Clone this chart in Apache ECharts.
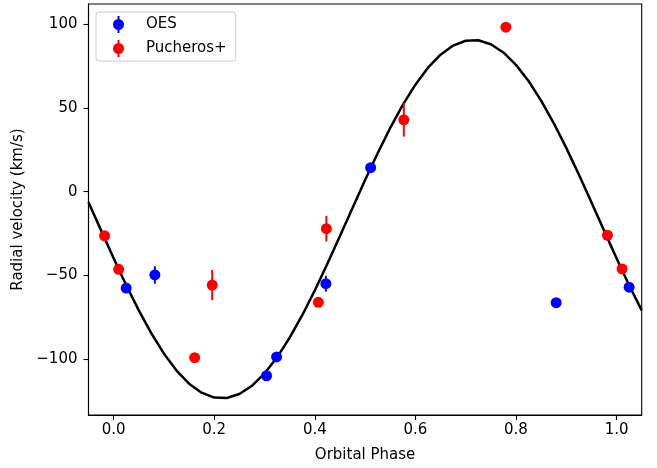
<!DOCTYPE html>
<html>
<head>
<meta charset="utf-8">
<script src="https://cdn.jsdelivr.net/npm/echarts@6/dist/echarts.min.js"></script>
<style>
  html, body { margin: 0; padding: 0; background: #fff; }
  #chartBox { width: 657px; height: 468px; }
</style>
</head>
<body>
<div id="chartBox"></div>
<script>
// OES points: phase, velocity, error
var oesPhase = [0.025, 0.082, 0.304, 0.324, 0.422, 0.511, 0.880, 1.025];
var oesVel = [-57.5, -49.7, -109.8, -98.6, -54.9, 14.3, -66.2, -57.0];
var oesErr = [1.5, 5.2, 2.5, 1.2, 4.7, 1.2, 1.2, 1.2];

// Pucheros+ points
var pucPhase = [-0.018, 0.010, 0.161, 0.196, 0.407, 0.423, 0.577, 0.780, 0.982, 1.011];
var pucVel = [-26.3, -46.3, -99.0, -55.7, -66.0, -22.1, 42.8, 98.1, -26.0, -46.1];
var pucErr = [1.2, 1.2, 1.2, 9.0, 1.2, 7.6, 10.0, 1.2, 1.2, 1.2];

// model curve, every 0.025 in phase
var curvePhase = [-0.05, -0.025, 0.0, 0.025, 0.05, 0.075, 0.1, 0.125, 0.15, 0.175, 0.2,
  0.225, 0.25, 0.275, 0.3, 0.325, 0.35, 0.375, 0.4, 0.425, 0.45, 0.475, 0.5,
  0.525, 0.55, 0.575, 0.6, 0.625, 0.65, 0.675, 0.7, 0.725, 0.75, 0.775, 0.8,
  0.825, 0.85, 0.875, 0.9, 0.925, 0.95, 0.975, 1.0, 1.025, 1.05];
var curveVel = [-6.3, -23.1, -39.7, -55.8, -70.8, -84.5, -96.6, -106.7, -114.5, -119.9, -122.8,
  -123.1, -120.7, -115.8, -108.4, -98.8, -87.1, -73.7, -58.9, -43.0, -26.5, -9.7, 6.9,
  22.9, 38.0, 51.7, 63.8, 73.9, 81.7, 87.1, 90.0, 90.3, 87.9, 83.0, 75.6,
  66.0, 54.3, 40.9, 26.1, 10.2, -6.3, -23.1, -39.7, -55.8, -70.8];

// tick labels
var xTicks = [0.0, 0.2, 0.4, 0.6, 0.8, 1.0];
var yTicks = [-100, -50, 0, 50, 100];

function zip(a, b) {
  var out = [];
  for (var i = 0; i < a.length; i++) out.push([a[i], b[i]]);
  return out;
}
function zip3(a, b, c) {
  var out = [];
  for (var i = 0; i < a.length; i++) out.push([a[i], b[i], c[i]]);
  return out;
}

// vertical error bar, placed through the axis coords
function errBar(color) {
  return function (params, api) {
    var x = api.value(0), y = api.value(1), e = api.value(2);
    var p1 = api.coord([x, y - e]);
    var p2 = api.coord([x, y + e]);
    return {
      type: "line",
      shape: { x1: p1[0], y1: p1[1], x2: p2[0], y2: p2[1] },
      style: { stroke: color, lineWidth: 2 }
    };
  };
}

var font = "DejaVu Sans";
// dot + error bar, padded so the icon sits in the middle of a 45px slot
var legendIcon = "path://M0,8.5h0.01v0.01h-0.01Z M44.99,8.5h0.01v0.01h-0.01Z " +
  "M21.5,0H23.5V17H21.5Z M28,8.5A5.5,5.5,0,1,1,17,8.5A5.5,5.5,0,1,1,28,8.5Z";

var chart = echarts.init(document.getElementById("chartBox"), null, { renderer: "canvas" });

var axisCommon = {
  type: "value",
  nameLocation: "middle",
  nameTextStyle: { fontFamily: font, fontSize: 15, color: "#000" },
  splitLine: { show: false },
  axisLine: { show: true, onZero: false, lineStyle: { color: "#000", width: 1.1 } }
};

var option = {
  animation: false,
  backgroundColor: "#fff",
  textStyle: { fontFamily: font },
  grid: {
    left: 88.5,
    right: 15.3,
    top: 4,
    bottom: 53,
    containLabel: false,
    outerBoundsMode: "none",
    show: true,
    borderColor: "#000",
    borderWidth: 1.1
  },
  legend: {
    orient: "vertical",
    left: 96,
    top: 12,
    padding: [4, 9, 4, 0],
    itemWidth: 45,
    itemHeight: 17,
    itemGap: 7,
    borderColor: "#cccccc",
    borderWidth: 1,
    borderRadius: 3,
    backgroundColor: "rgba(255,255,255,0.8)",
    textStyle: { fontFamily: font, fontSize: 15, color: "#000", lineHeight: 17 },
    data: [
      { name: "OES", icon: legendIcon },
      { name: "Pucheros+", icon: legendIcon }
    ]
  },
  xAxis: Object.assign({}, axisCommon, {
    min: -0.05,
    max: 1.05,
    name: "Orbital Phase",
    nameGap: 33,
    axisTick: {
      show: true,
      length: 5,
      customValues: xTicks,
      lineStyle: { color: "#000", width: 1.1 }
    },
    axisLabel: {
      customValues: xTicks,
      fontFamily: font,
      fontSize: 15,
      color: "#000",
      margin: 8,
      formatter: function (v) { return v.toFixed(1); }
    }
  }),
  yAxis: Object.assign({}, axisCommon, {
    min: -133.2,
    max: 111.9,
    name: "Radial velocity (km/s)",
    nameGap: 56,
    axisTick: {
      show: true,
      length: 5,
      customValues: yTicks,
      lineStyle: { color: "#000", width: 1.1 }
    },
    axisLabel: {
      customValues: yTicks,
      fontFamily: font,
      fontSize: 15,
      color: "#000",
      margin: 11,
      formatter: function (v) { return String(v).replace("-", "\u2212"); }
    }
  }),
  series: [
    {
      name: "model",
      type: "line",
      data: zip(curvePhase, curveVel),
      smooth: false,
      symbol: "none",
      lineStyle: { color: "#000", width: 2.5, join: "round" },
      z: 1
    },
    {
      name: "OES error",
      type: "custom",
      data: zip3(oesPhase, oesVel, oesErr),
      renderItem: errBar("#0000ff"),
      z: 2
    },
    {
      name: "Pucheros+ error",
      type: "custom",
      data: zip3(pucPhase, pucVel, pucErr),
      renderItem: errBar("#ff0000"),
      z: 2
    },
    {
      name: "OES",
      type: "scatter",
      data: zip(oesPhase, oesVel),
      symbol: "circle",
      symbolSize: 11,
      itemStyle: { color: "#0000ff", opacity: 1 },
      z: 3
    },
    {
      name: "Pucheros+",
      type: "scatter",
      data: zip(pucPhase, pucVel),
      symbol: "circle",
      symbolSize: 11,
      itemStyle: { color: "#ff0000", opacity: 1 },
      z: 3
    }
  ]
};

chart.setOption(option);
</script>
</body>
</html>
